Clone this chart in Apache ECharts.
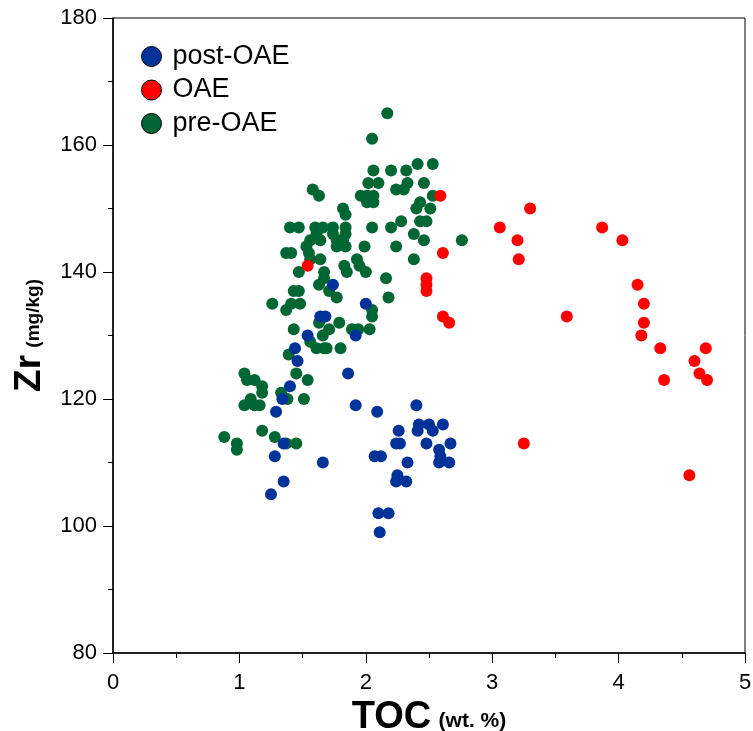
<!DOCTYPE html>
<html>
<head>
<meta charset="utf-8">
<script src="https://cdn.jsdelivr.net/npm/echarts@6/dist/echarts.min.js"></script>
<style>html,body{margin:0;padding:0;background:#fff}#c{width:753px;height:731px}</style>
</head>
<body>
<div id="c"></div>
<script>
const seriesNames = ['post-OAE', 'OAE', 'pre-OAE'];
const xTicks = [0, 1, 2, 3, 4, 5];
const yTicks = [80, 100, 120, 140, 160, 180];

const postOAE = [
  [2.00,135],[1.64,133],[1.68,133],[1.54,130],[1.92,130],[1.44,128],[1.46,126],[1.86,124],
  [1.40,122],[1.34,120],[1.29,118],[1.92,119],[2.09,118],[2.40,119],[2.42,116],[2.41,115],
  [2.50,116],[2.53,115],[2.61,116],[2.26,115],[2.24,113],[2.27,113],[2.48,113],[2.58,112],
  [2.59,111],[2.67,113],[2.58,110],[2.66,110],[2.33,110],[2.07,111],[2.12,111],[1.66,110],
  [1.35,113],[1.28,111],[2.25,108],[2.24,107],[2.32,107],[1.35,107],[1.25,105],[2.10,102],
  [2.18,102],[2.11,99],[1.74,138]
];

const OAE = [
  [2.59,152],[3.30,150],[3.06,147],[3.87,147],[3.20,145],[4.03,145],[2.61,143],[3.21,142],
  [2.48,139],[2.48,138],[2.48,137],[4.15,138],[4.20,135],[3.59,133],[2.61,133],[2.66,132],
  [4.20,132],[4.18,130],[4.33,128],[4.69,128],[4.60,126],[4.64,124],[4.70,123],[4.36,123],
  [3.25,113],[4.56,108],[1.54,141]
];

const preOAE = [
  [2.17,165],[2.05,161],[2.41,157],[2.53,157],[2.06,156],[2.20,156],[2.32,156],[2.02,154],
  [2.10,154],[2.33,154],[2.46,154],[2.24,153],[2.30,153],[1.58,153],[1.63,152],[1.96,152],
  [2.01,152],[2.06,152],[2.01,151],[2.06,151],[2.43,151],[2.40,150],[2.51,150],[2.53,152],
  [1.82,150],[1.84,149],[2.28,148],[2.43,148],[2.48,148],[2.38,146],[2.46,145],[2.76,145],
  [2.05,147],[2.20,147],[1.99,144],[2.24,144],
  [1.40,147],[1.47,147],[1.60,147],[1.66,147],[1.74,147],[1.84,147],
  [1.61,146],[1.74,146],[1.84,146],
  [1.56,145],[1.64,145],[1.77,145],[1.82,145],
  [1.53,144],[1.77,144],[1.84,144],
  [1.37,143],[1.41,143],[1.55,143],
  [1.56,142],[1.64,142],[1.93,142],[2.38,142],
  [1.83,141],[1.95,141],
  [1.85,140],[2.00,140],[1.47,140],[1.67,140],
  [1.67,139],[2.16,139],
  [1.63,138],
  [1.71,137],[1.43,137],[1.47,137],
  [1.77,136],[2.18,136],
  [1.26,135],[1.41,135],[1.48,135],
  [1.37,134],[2.05,134],[2.05,133],
  [1.63,132],[1.79,132],
  [1.43,131],[1.71,131],[1.89,131],[1.94,131],[2.03,131],
  [1.66,130],[1.56,129],
  [1.61,128],[1.67,128],[1.69,128],[1.80,128],
  [1.39,127],
  [1.04,124],[1.45,124],
  [1.06,123],[1.12,123],[1.54,123],
  [1.18,122],
  [1.18,121],[1.33,121],
  [1.09,120],[1.38,120],[1.51,120],
  [1.04,119],[1.12,119],[1.16,119],
  [1.18,115],
  [0.88,114],[1.28,114],
  [0.98,113],[1.37,113],[1.45,113],
  [0.98,112]
];

const colors = {'post-OAE':'#003399','OAE':'#ff0000','pre-OAE':'#006633'};
const font = '"Liberation Sans", Arial, sans-serif';

const chart = echarts.init(document.getElementById('c'));
function mk(name, data, z) {
  return {
    name: name, type: 'scatter', data: data, symbol: 'circle', symbolSize: 12, z: z,
    itemStyle: {color: colors[name], opacity: 1},
    emphasis: {disabled: true}
  };
}
chart.setOption({
  animation: false,
  backgroundColor: '#fff',
  grid: {left: 113, right: 8, top: 18, bottom: 78, outerBoundsMode: 'none', containLabel: false, show: true, borderColor: '#000', borderWidth: 1, backgroundColor: 'transparent'},
  legend: {
    data: seriesNames.map(n => ({name: n, itemStyle: {color: colors[n], borderColor: '#000', borderWidth: 1}})),
    orient: 'vertical', left: 141, top: 43, padding: 0, icon: 'circle', itemWidth: 20, itemHeight: 20, itemGap: 6.5,
    textStyle: {fontFamily: font, fontSize: 27, lineHeight: 26, color: '#000', padding: [0,0,0,6]},
    selectedMode: false
  },
  xAxis: {
    type: 'value', min: xTicks[0], max: xTicks[xTicks.length-1], interval: 1,
    axisLine: {show: true, onZero: false, lineStyle: {color: '#000', width: 1.5}},
    axisTick: {show: true, inside: false, length: 10, lineStyle: {color: '#000', width: 1}},
    minorTick: {show: true, splitNumber: 2, length: 5, lineStyle: {color: '#000', width: 1}},
    splitLine: {show: false},
    axisLabel: {fontFamily: font, fontSize: 22, color: '#000', margin: 19},
    name: '{a|TOC} {b|(wt. %)}', nameLocation: 'middle', nameGap: 45,
    nameTextStyle: {rich: {a: {fontFamily: font, fontSize: 38, fontWeight: 'bold', color: '#000'}, b: {fontFamily: font, fontSize: 21, fontWeight: 'bold', color: '#000', padding: [7,0,0,4]}}}
  },
  yAxis: {
    type: 'value', min: yTicks[0], max: yTicks[yTicks.length-1], interval: 20,
    axisLine: {show: true, onZero: false, lineStyle: {color: '#000', width: 1.5}},
    axisTick: {show: true, inside: false, length: 10, lineStyle: {color: '#000', width: 1}},
    minorTick: {show: true, splitNumber: 2, length: 5, lineStyle: {color: '#000', width: 1}},
    splitLine: {show: false},
    axisLabel: {fontFamily: font, fontSize: 22, color: '#000', margin: 16},
    name: '{a|Zr} {b|(mg/kg)}', nameLocation: 'middle', nameGap: 65, nameRotate: 90,
    nameTextStyle: {rich: {a: {fontFamily: font, fontSize: 37, fontWeight: 'bold', color: '#000'}, b: {fontFamily: font, fontSize: 19, fontWeight: 'bold', color: '#000', padding: [8,0,0,4]}}}
  },
  series: [mk('pre-OAE', preOAE, 2), mk('OAE', OAE, 3), mk('post-OAE', postOAE, 4)]
});
</script>
</body>
</html>
